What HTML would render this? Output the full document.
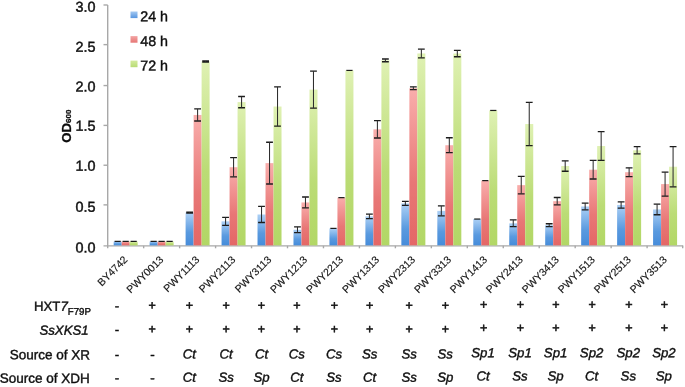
<!DOCTYPE html>
<html lang="en"><head><meta charset="utf-8"><title>OD600 growth chart</title>
<style>html,body{margin:0;padding:0;background:#fff}body{width:685px;height:387px;overflow:hidden}svg{display:block}text{font-family:"Liberation Sans", Arial, Helvetica, sans-serif;fill:#111}</style></head><body>
<svg width="685" height="387" viewBox="0 0 685 387">
<defs><linearGradient id="gb" x1="0" y1="0" x2="0" y2="1"><stop offset="0" stop-color="#acd0f5"/><stop offset="0.6" stop-color="#5a9adf"/><stop offset="1" stop-color="#468cda"/></linearGradient><linearGradient id="gr" x1="0" y1="0" x2="0" y2="1"><stop offset="0" stop-color="#f9aeac"/><stop offset="0.6" stop-color="#e87776"/><stop offset="1" stop-color="#e46766"/></linearGradient><linearGradient id="gg" x1="0" y1="0" x2="0" y2="1"><stop offset="0" stop-color="#dff1b3"/><stop offset="0.6" stop-color="#bbdc75"/><stop offset="1" stop-color="#b2d765"/></linearGradient><linearGradient id="lb" x1="0" y1="0" x2="0" y2="1"><stop offset="0" stop-color="#a5c9f1"/><stop offset="1" stop-color="#5796e0"/></linearGradient><linearGradient id="lr" x1="0" y1="0" x2="0" y2="1"><stop offset="0" stop-color="#f3a5a4"/><stop offset="1" stop-color="#e67574"/></linearGradient><linearGradient id="lg" x1="0" y1="0" x2="0" y2="1"><stop offset="0" stop-color="#d3ea9e"/><stop offset="1" stop-color="#b9dc74"/></linearGradient><filter id="soft" x="0" y="0" width="100%" height="100%" filterUnits="userSpaceOnUse"><feGaussianBlur stdDeviation="0.35"/></filter></defs>
<rect width="685" height="387" fill="#fff"/>
<g filter="url(#soft)">
<g stroke="#a8a8a8" stroke-width="1.4" fill="none">
<line x1="107.70" y1="5" x2="107.70" y2="248.30"/>
<line x1="103.50" y1="245.90" x2="683.2" y2="245.90"/>
<line x1="103.50" y1="204.87" x2="107.70" y2="204.87"/>
<line x1="103.50" y1="165.23" x2="107.70" y2="165.23"/>
<line x1="103.50" y1="125.40" x2="107.70" y2="125.40"/>
<line x1="103.50" y1="85.56" x2="107.70" y2="85.56"/>
<line x1="103.50" y1="44.63" x2="107.70" y2="44.63"/>
<line x1="103.50" y1="4.99" x2="107.70" y2="4.99"/>
<line x1="143.66" y1="245.80" x2="143.66" y2="248.30"/>
<line x1="179.62" y1="245.80" x2="179.62" y2="248.30"/>
<line x1="215.58" y1="245.80" x2="215.58" y2="248.30"/>
<line x1="251.54" y1="245.80" x2="251.54" y2="248.30"/>
<line x1="287.50" y1="245.80" x2="287.50" y2="248.30"/>
<line x1="323.46" y1="245.80" x2="323.46" y2="248.30"/>
<line x1="359.42" y1="245.80" x2="359.42" y2="248.30"/>
<line x1="395.38" y1="245.80" x2="395.38" y2="248.30"/>
<line x1="431.34" y1="245.80" x2="431.34" y2="248.30"/>
<line x1="467.30" y1="245.80" x2="467.30" y2="248.30"/>
<line x1="503.26" y1="245.80" x2="503.26" y2="248.30"/>
<line x1="539.22" y1="245.80" x2="539.22" y2="248.30"/>
<line x1="575.18" y1="245.80" x2="575.18" y2="248.30"/>
<line x1="611.14" y1="245.80" x2="611.14" y2="248.30"/>
<line x1="647.10" y1="245.80" x2="647.10" y2="248.30"/>
<line x1="682.70" y1="245.80" x2="682.70" y2="248.30"/>
</g>
<g>
<rect x="113.68" y="241.39" width="8.00" height="3.96" fill="url(#gb)"/>
<rect x="121.68" y="241.39" width="8.00" height="3.96" fill="url(#gr)"/>
<rect x="129.68" y="241.39" width="8.00" height="3.96" fill="url(#gg)"/>
<rect x="149.64" y="241.39" width="8.00" height="3.96" fill="url(#gb)"/>
<rect x="157.64" y="241.39" width="8.00" height="3.96" fill="url(#gr)"/>
<rect x="165.64" y="241.39" width="8.00" height="3.96" fill="url(#gg)"/>
<rect x="185.60" y="212.57" width="8.00" height="32.78" fill="url(#gb)"/>
<rect x="193.60" y="114.96" width="8.00" height="130.39" fill="url(#gr)"/>
<rect x="201.60" y="61.50" width="8.00" height="183.85" fill="url(#gg)"/>
<rect x="221.56" y="221.32" width="8.00" height="24.03" fill="url(#gb)"/>
<rect x="229.56" y="167.22" width="8.00" height="78.13" fill="url(#gr)"/>
<rect x="237.56" y="102.12" width="8.00" height="143.23" fill="url(#gg)"/>
<rect x="257.52" y="214.49" width="8.00" height="30.86" fill="url(#gb)"/>
<rect x="265.52" y="163.12" width="8.00" height="82.23" fill="url(#gr)"/>
<rect x="273.52" y="106.53" width="8.00" height="138.82" fill="url(#gg)"/>
<rect x="293.48" y="229.75" width="8.00" height="15.60" fill="url(#gb)"/>
<rect x="301.48" y="202.45" width="8.00" height="42.90" fill="url(#gr)"/>
<rect x="309.48" y="89.59" width="8.00" height="155.76" fill="url(#gg)"/>
<rect x="329.44" y="228.38" width="8.00" height="16.97" fill="url(#gb)"/>
<rect x="337.44" y="197.64" width="8.00" height="47.71" fill="url(#gr)"/>
<rect x="345.44" y="70.41" width="8.00" height="174.94" fill="url(#gg)"/>
<rect x="365.40" y="216.34" width="8.00" height="29.01" fill="url(#gb)"/>
<rect x="373.40" y="129.33" width="8.00" height="116.02" fill="url(#gr)"/>
<rect x="381.40" y="60.38" width="8.00" height="184.97" fill="url(#gg)"/>
<rect x="401.36" y="203.42" width="8.00" height="41.93" fill="url(#gb)"/>
<rect x="409.36" y="88.23" width="8.00" height="157.12" fill="url(#gr)"/>
<rect x="417.36" y="53.47" width="8.00" height="191.88" fill="url(#gg)"/>
<rect x="437.32" y="210.88" width="8.00" height="34.47" fill="url(#gb)"/>
<rect x="445.32" y="145.22" width="8.00" height="100.13" fill="url(#gr)"/>
<rect x="453.32" y="53.55" width="8.00" height="191.80" fill="url(#gg)"/>
<rect x="473.28" y="219.07" width="8.00" height="26.28" fill="url(#gb)"/>
<rect x="481.28" y="180.62" width="8.00" height="64.73" fill="url(#gr)"/>
<rect x="489.28" y="110.46" width="8.00" height="134.89" fill="url(#gg)"/>
<rect x="509.24" y="223.32" width="8.00" height="22.03" fill="url(#gb)"/>
<rect x="517.24" y="185.12" width="8.00" height="60.23" fill="url(#gr)"/>
<rect x="525.24" y="124.03" width="8.00" height="121.32" fill="url(#gg)"/>
<rect x="545.20" y="225.17" width="8.00" height="20.18" fill="url(#gb)"/>
<rect x="553.20" y="201.17" width="8.00" height="44.18" fill="url(#gr)"/>
<rect x="561.20" y="166.01" width="8.00" height="79.34" fill="url(#gg)"/>
<rect x="581.16" y="206.47" width="8.00" height="38.88" fill="url(#gb)"/>
<rect x="589.16" y="169.70" width="8.00" height="75.65" fill="url(#gr)"/>
<rect x="597.16" y="146.02" width="8.00" height="99.33" fill="url(#gg)"/>
<rect x="617.12" y="204.94" width="8.00" height="40.41" fill="url(#gb)"/>
<rect x="625.12" y="172.19" width="8.00" height="73.16" fill="url(#gr)"/>
<rect x="633.12" y="150.28" width="8.00" height="95.07" fill="url(#gg)"/>
<rect x="653.08" y="209.44" width="8.00" height="35.91" fill="url(#gb)"/>
<rect x="661.08" y="184.07" width="8.00" height="61.28" fill="url(#gr)"/>
<rect x="669.08" y="166.73" width="8.00" height="78.62" fill="url(#gg)"/>
</g>
<g stroke="#1c1c1c" stroke-width="1.3" fill="none">
<line x1="114.58" y1="241.39" x2="120.78" y2="241.39" stroke-width="1.2"/>
<line x1="122.58" y1="241.39" x2="128.78" y2="241.39" stroke-width="1.2"/>
<line x1="130.58" y1="241.39" x2="136.78" y2="241.39" stroke-width="1.2"/>
<line x1="150.54" y1="241.39" x2="156.74" y2="241.39" stroke-width="1.2"/>
<line x1="158.54" y1="241.39" x2="164.74" y2="241.39" stroke-width="1.2"/>
<line x1="166.54" y1="241.39" x2="172.74" y2="241.39" stroke-width="1.2"/>
<path d="M186.20 212.09H193.00M186.20 213.05H193.00"/><path d="M189.60 212.09V213.05" stroke="#2e2e2e" stroke-width="1.05"/>
<path d="M194.20 108.94H201.00M194.20 120.98H201.00"/><path d="M197.60 108.94V120.98" stroke="#2e2e2e" stroke-width="1.05"/>
<path d="M202.20 61.02H209.00M202.20 61.98H209.00"/><path d="M205.60 61.02V61.98" stroke="#2e2e2e" stroke-width="1.05"/>
<path d="M222.16 217.30H228.96M222.16 225.33H228.96"/><path d="M225.56 217.30V225.33" stroke="#2e2e2e" stroke-width="1.05"/>
<path d="M230.16 157.58H236.96M230.16 176.85H236.96"/><path d="M233.56 157.58V176.85" stroke="#2e2e2e" stroke-width="1.05"/>
<path d="M238.16 96.50H244.96M238.16 107.74H244.96"/><path d="M241.56 96.50V107.74" stroke="#2e2e2e" stroke-width="1.05"/>
<path d="M258.12 206.47H264.92M258.12 222.52H264.92"/><path d="M261.52 206.47V222.52" stroke="#2e2e2e" stroke-width="1.05"/>
<path d="M266.12 142.25H272.92M266.12 183.99H272.92"/><path d="M269.52 142.25V183.99" stroke="#2e2e2e" stroke-width="1.05"/>
<path d="M274.12 86.87H280.92M274.12 126.20H280.92"/><path d="M277.52 86.87V126.20" stroke="#2e2e2e" stroke-width="1.05"/>
<path d="M294.08 226.94H300.88M294.08 232.56H300.88"/><path d="M297.48 226.94V232.56" stroke="#2e2e2e" stroke-width="1.05"/>
<path d="M302.08 197.00H308.88M302.08 207.91H308.88"/><path d="M305.48 197.00V207.91" stroke="#2e2e2e" stroke-width="1.05"/>
<path d="M310.08 71.13H316.88M310.08 108.06H316.88"/><path d="M313.48 71.13V108.06" stroke="#2e2e2e" stroke-width="1.05"/>
<line x1="330.34" y1="228.38" x2="336.54" y2="228.38" stroke-width="1.2"/>
<line x1="338.34" y1="197.64" x2="344.54" y2="197.64" stroke-width="1.2"/>
<line x1="346.34" y1="70.41" x2="352.54" y2="70.41" stroke-width="1.2"/>
<path d="M366.00 214.09H372.80M366.00 218.59H372.80"/><path d="M369.40 214.09V218.59" stroke="#2e2e2e" stroke-width="1.05"/>
<path d="M374.00 120.66H380.80M374.00 138.00H380.80"/><path d="M377.40 120.66V138.00" stroke="#2e2e2e" stroke-width="1.05"/>
<path d="M382.00 59.01H388.80M382.00 61.74H388.80"/><path d="M385.40 59.01V61.74" stroke="#2e2e2e" stroke-width="1.05"/>
<path d="M401.96 201.41H408.76M401.96 205.42H408.76"/><path d="M405.36 201.41V205.42" stroke="#2e2e2e" stroke-width="1.05"/>
<path d="M409.96 86.79H416.76M409.96 89.67H416.76"/><path d="M413.36 86.79V89.67" stroke="#2e2e2e" stroke-width="1.05"/>
<path d="M417.96 49.14H424.76M417.96 57.81H424.76"/><path d="M421.36 49.14V57.81" stroke="#2e2e2e" stroke-width="1.05"/>
<path d="M437.92 205.91H444.72M437.92 215.86H444.72"/><path d="M441.32 205.91V215.86" stroke="#2e2e2e" stroke-width="1.05"/>
<path d="M445.92 137.76H452.72M445.92 152.69H452.72"/><path d="M449.32 137.76V152.69" stroke="#2e2e2e" stroke-width="1.05"/>
<path d="M453.92 50.34H460.72M453.92 56.76H460.72"/><path d="M457.32 50.34V56.76" stroke="#2e2e2e" stroke-width="1.05"/>
<line x1="474.18" y1="219.07" x2="480.38" y2="219.07" stroke-width="1.2"/>
<line x1="482.18" y1="180.62" x2="488.38" y2="180.62" stroke-width="1.2"/>
<line x1="490.18" y1="110.46" x2="496.38" y2="110.46" stroke-width="1.2"/>
<path d="M509.84 219.95H516.64M509.84 226.70H516.64"/><path d="M513.24 219.95V226.70" stroke="#2e2e2e" stroke-width="1.05"/>
<path d="M517.84 176.45H524.64M517.84 193.79H524.64"/><path d="M521.24 176.45V193.79" stroke="#2e2e2e" stroke-width="1.05"/>
<path d="M525.84 102.36H532.64M525.84 145.70H532.64"/><path d="M529.24 102.36V145.70" stroke="#2e2e2e" stroke-width="1.05"/>
<path d="M545.80 223.73H552.60M545.80 226.62H552.60"/><path d="M549.20 223.73V226.62" stroke="#2e2e2e" stroke-width="1.05"/>
<path d="M553.80 197.48H560.60M553.80 204.86H560.60"/><path d="M557.20 197.48V204.86" stroke="#2e2e2e" stroke-width="1.05"/>
<path d="M561.80 160.79H568.60M561.80 171.23H568.60"/><path d="M565.20 160.79V171.23" stroke="#2e2e2e" stroke-width="1.05"/>
<path d="M581.76 203.10H588.56M581.76 209.84H588.56"/><path d="M585.16 203.10V209.84" stroke="#2e2e2e" stroke-width="1.05"/>
<path d="M589.76 160.39H596.56M589.76 179.02H596.56"/><path d="M593.16 160.39V179.02" stroke="#2e2e2e" stroke-width="1.05"/>
<path d="M597.76 131.58H604.56M597.76 160.47H604.56"/><path d="M601.16 131.58V160.47" stroke="#2e2e2e" stroke-width="1.05"/>
<path d="M617.72 201.81H624.52M617.72 208.07H624.52"/><path d="M621.12 201.81V208.07" stroke="#2e2e2e" stroke-width="1.05"/>
<path d="M625.72 167.86H632.52M625.72 176.53H632.52"/><path d="M629.12 167.86V176.53" stroke="#2e2e2e" stroke-width="1.05"/>
<path d="M633.72 146.59H640.52M633.72 153.97H640.52"/><path d="M637.12 146.59V153.97" stroke="#2e2e2e" stroke-width="1.05"/>
<path d="M653.68 204.14H660.48M653.68 214.74H660.48"/><path d="M657.08 204.14V214.74" stroke="#2e2e2e" stroke-width="1.05"/>
<path d="M661.68 172.03H668.48M661.68 196.11H668.48"/><path d="M665.08 172.03V196.11" stroke="#2e2e2e" stroke-width="1.05"/>
<path d="M669.68 146.67H676.48M669.68 186.80H676.48"/><path d="M673.08 146.67V186.80" stroke="#2e2e2e" stroke-width="1.05"/>
</g>
<g font-size="14.4" text-anchor="end" stroke="#111" stroke-width="0.45">
<text x="95.5" y="252.55" transform="rotate(0.03 95.5 252.55)">0.0</text>
<text x="95.5" y="211.75" transform="rotate(0.03 95.5 211.75)">0.5</text>
<text x="95.5" y="170.65" transform="rotate(0.03 95.5 170.65)">1.0</text>
<text x="95.5" y="130.85" transform="rotate(0.03 95.5 130.85)">1.5</text>
<text x="95.5" y="91.45" transform="rotate(0.03 95.5 91.45)">2.0</text>
<text x="95.5" y="51.75" transform="rotate(0.03 95.5 51.75)">2.5</text>
<text x="95.5" y="11.75" transform="rotate(0.03 95.5 11.75)">3.0</text>
</g>
<text transform="translate(70.7 142.7) rotate(-90)" font-size="13.2" font-weight="bold" stroke="#111" stroke-width="0.3">OD<tspan font-size="8">600</tspan></text>
<g font-size="14.3" stroke="#111" stroke-width="0.4">
<rect x="130.5" y="11.5" width="7" height="6.6" fill="url(#lb)" stroke="none"/>
<text x="140.2" y="21.3" transform="rotate(0.03 140.2 21.3)">24 h</text>
<rect x="130.5" y="36.1" width="7" height="6.6" fill="url(#lr)" stroke="none"/>
<text x="140.2" y="46.1" transform="rotate(0.03 140.2 46.1)">48 h</text>
<rect x="130.5" y="60.6" width="7" height="6.6" fill="url(#lg)" stroke="none"/>
<text x="140.2" y="70.4" transform="rotate(0.03 140.2 70.4)">72 h</text>
</g>
<g font-size="10.5" text-anchor="end" fill="#222" stroke="#222" stroke-width="0.15">
<text transform="translate(128.18 260.3) rotate(-45)">BY4742</text>
<text transform="translate(164.14 260.3) rotate(-45)">PWY0013</text>
<text transform="translate(200.10 260.3) rotate(-45)">PWY1113</text>
<text transform="translate(236.06 260.3) rotate(-45)">PWY2113</text>
<text transform="translate(272.02 260.3) rotate(-45)">PWY3113</text>
<text transform="translate(307.98 260.3) rotate(-45)">PWY1213</text>
<text transform="translate(343.94 260.3) rotate(-45)">PWY2213</text>
<text transform="translate(379.90 260.3) rotate(-45)">PWY1313</text>
<text transform="translate(415.86 260.3) rotate(-45)">PWY2313</text>
<text transform="translate(451.82 260.3) rotate(-45)">PWY3313</text>
<text transform="translate(487.78 260.3) rotate(-45)">PWY1413</text>
<text transform="translate(523.74 260.3) rotate(-45)">PWY2413</text>
<text transform="translate(559.70 260.3) rotate(-45)">PWY3413</text>
<text transform="translate(595.66 260.3) rotate(-45)">PWY1513</text>
<text transform="translate(631.62 260.3) rotate(-45)">PWY2513</text>
<text transform="translate(667.58 260.3) rotate(-45)">PWY3513</text>
</g>
<g font-size="13.5" text-anchor="end" stroke="#111" stroke-width="0.4">
<text x="90.9" y="310.9" transform="rotate(0.03 90.9 310.9)"><tspan font-size="13.2">HXT</tspan><tspan font-size="13.2" font-style="italic">7</tspan><tspan font-size="9.7" dy="3.8">F79P</tspan></text>
<text x="88.6" y="334.7" transform="rotate(0.03 88.6 334.7)" font-style="italic" font-size="13.2">SsXKS1</text>
<text x="90.1" y="359.4" transform="rotate(0.03 90.1 359.4)">Source of XR</text>
<text x="89.8" y="382.9" transform="rotate(0.03 89.8 382.9)">Source of XDH</text>
</g>
<g font-size="13.5" text-anchor="middle" stroke="#111" stroke-width="0.4">
<text x="117.10" y="310.30" transform="rotate(0.03 117.10 310.30)" font-style="normal" font-size="13.5">-</text>
<text x="152.10" y="309.55" transform="rotate(0.03 152.10 309.55)" font-style="normal" font-size="12.5" stroke-width="0.55">+</text>
<text x="189.40" y="309.55" transform="rotate(0.03 189.40 309.55)" font-style="normal" font-size="12.5" stroke-width="0.55">+</text>
<text x="226.10" y="309.55" transform="rotate(0.03 226.10 309.55)" font-style="normal" font-size="12.5" stroke-width="0.55">+</text>
<text x="261.50" y="309.55" transform="rotate(0.03 261.50 309.55)" font-style="normal" font-size="12.5" stroke-width="0.55">+</text>
<text x="296.80" y="309.55" transform="rotate(0.03 296.80 309.55)" font-style="normal" font-size="12.5" stroke-width="0.55">+</text>
<text x="334.35" y="309.55" transform="rotate(0.03 334.35 309.55)" font-style="normal" font-size="12.5" stroke-width="0.55">+</text>
<text x="369.70" y="309.55" transform="rotate(0.03 369.70 309.55)" font-style="normal" font-size="12.5" stroke-width="0.55">+</text>
<text x="409.20" y="309.55" transform="rotate(0.03 409.20 309.55)" font-style="normal" font-size="12.5" stroke-width="0.55">+</text>
<text x="445.50" y="309.55" transform="rotate(0.03 445.50 309.55)" font-style="normal" font-size="12.5" stroke-width="0.55">+</text>
<text x="483.70" y="308.85" transform="rotate(0.03 483.70 308.85)" font-style="normal" font-size="12.5" stroke-width="0.55">+</text>
<text x="520.50" y="308.85" transform="rotate(0.03 520.50 308.85)" font-style="normal" font-size="12.5" stroke-width="0.55">+</text>
<text x="555.95" y="308.85" transform="rotate(0.03 555.95 308.85)" font-style="normal" font-size="12.5" stroke-width="0.55">+</text>
<text x="592.10" y="308.85" transform="rotate(0.03 592.10 308.85)" font-style="normal" font-size="12.5" stroke-width="0.55">+</text>
<text x="628.80" y="308.85" transform="rotate(0.03 628.80 308.85)" font-style="normal" font-size="12.5" stroke-width="0.55">+</text>
<text x="664.40" y="308.85" transform="rotate(0.03 664.40 308.85)" font-style="normal" font-size="12.5" stroke-width="0.55">+</text>
</g>
<g font-size="13.5" text-anchor="middle" stroke="#111" stroke-width="0.4">
<text x="117.10" y="334.05" transform="rotate(0.03 117.10 334.05)" font-style="normal" font-size="13.5">-</text>
<text x="152.10" y="333.30" transform="rotate(0.03 152.10 333.30)" font-style="normal" font-size="12.5" stroke-width="0.55">+</text>
<text x="189.40" y="333.30" transform="rotate(0.03 189.40 333.30)" font-style="normal" font-size="12.5" stroke-width="0.55">+</text>
<text x="226.10" y="333.30" transform="rotate(0.03 226.10 333.30)" font-style="normal" font-size="12.5" stroke-width="0.55">+</text>
<text x="261.50" y="333.30" transform="rotate(0.03 261.50 333.30)" font-style="normal" font-size="12.5" stroke-width="0.55">+</text>
<text x="296.80" y="333.30" transform="rotate(0.03 296.80 333.30)" font-style="normal" font-size="12.5" stroke-width="0.55">+</text>
<text x="334.35" y="333.30" transform="rotate(0.03 334.35 333.30)" font-style="normal" font-size="12.5" stroke-width="0.55">+</text>
<text x="369.70" y="333.30" transform="rotate(0.03 369.70 333.30)" font-style="normal" font-size="12.5" stroke-width="0.55">+</text>
<text x="409.20" y="333.30" transform="rotate(0.03 409.20 333.30)" font-style="normal" font-size="12.5" stroke-width="0.55">+</text>
<text x="445.50" y="333.30" transform="rotate(0.03 445.50 333.30)" font-style="normal" font-size="12.5" stroke-width="0.55">+</text>
<text x="483.70" y="332.00" transform="rotate(0.03 483.70 332.00)" font-style="normal" font-size="12.5" stroke-width="0.55">+</text>
<text x="520.50" y="332.00" transform="rotate(0.03 520.50 332.00)" font-style="normal" font-size="12.5" stroke-width="0.55">+</text>
<text x="555.95" y="332.00" transform="rotate(0.03 555.95 332.00)" font-style="normal" font-size="12.5" stroke-width="0.55">+</text>
<text x="592.10" y="332.00" transform="rotate(0.03 592.10 332.00)" font-style="normal" font-size="12.5" stroke-width="0.55">+</text>
<text x="628.80" y="332.00" transform="rotate(0.03 628.80 332.00)" font-style="normal" font-size="12.5" stroke-width="0.55">+</text>
<text x="664.40" y="332.00" transform="rotate(0.03 664.40 332.00)" font-style="normal" font-size="12.5" stroke-width="0.55">+</text>
</g>
<g font-size="13.2" text-anchor="middle" stroke="#111" stroke-width="0.4" font-style="italic">
<text x="117.10" y="359.00" transform="rotate(0.03 117.10 359.00)" font-style="normal" font-size="13.5">-</text>
<text x="152.40" y="359.00" transform="rotate(0.03 152.40 359.00)" font-style="normal" font-size="13.5">-</text>
<text x="189.40" y="358.60" transform="rotate(0.03 189.40 358.60)">Ct</text>
<text x="226.10" y="358.60" transform="rotate(0.03 226.10 358.60)">Ct</text>
<text x="261.50" y="358.60" transform="rotate(0.03 261.50 358.60)">Ct</text>
<text x="296.80" y="358.60" transform="rotate(0.03 296.80 358.60)">Cs</text>
<text x="334.00" y="358.60" transform="rotate(0.03 334.00 358.60)">Cs</text>
<text x="369.70" y="358.60" transform="rotate(0.03 369.70 358.60)">Ss</text>
<text x="409.20" y="358.60" transform="rotate(0.03 409.20 358.60)">Ss</text>
<text x="445.20" y="358.60" transform="rotate(0.03 445.20 358.60)">Ss</text>
<text x="483.00" y="357.30" transform="rotate(0.03 483.00 357.30)">Sp1</text>
<text x="520.00" y="357.30" transform="rotate(0.03 520.00 357.30)">Sp1</text>
<text x="555.60" y="357.30" transform="rotate(0.03 555.60 357.30)">Sp1</text>
<text x="591.60" y="357.30" transform="rotate(0.03 591.60 357.30)">Sp2</text>
<text x="628.30" y="357.30" transform="rotate(0.03 628.30 357.30)">Sp2</text>
<text x="663.90" y="357.30" transform="rotate(0.03 663.90 357.30)">Sp2</text>
</g>
<g font-size="13.2" text-anchor="middle" stroke="#111" stroke-width="0.4" font-style="italic">
<text x="117.10" y="382.20" transform="rotate(0.03 117.10 382.20)" font-style="normal" font-size="13.5">-</text>
<text x="152.40" y="382.20" transform="rotate(0.03 152.40 382.20)" font-style="normal" font-size="13.5">-</text>
<text x="189.40" y="381.80" transform="rotate(0.03 189.40 381.80)">Ct</text>
<text x="226.10" y="381.80" transform="rotate(0.03 226.10 381.80)">Ss</text>
<text x="261.50" y="381.80" transform="rotate(0.03 261.50 381.80)">Sp</text>
<text x="296.80" y="381.80" transform="rotate(0.03 296.80 381.80)">Ct</text>
<text x="334.00" y="381.80" transform="rotate(0.03 334.00 381.80)">Ss</text>
<text x="369.70" y="381.80" transform="rotate(0.03 369.70 381.80)">Ct</text>
<text x="409.20" y="381.80" transform="rotate(0.03 409.20 381.80)">Ss</text>
<text x="445.20" y="381.80" transform="rotate(0.03 445.20 381.80)">Sp</text>
<text x="483.00" y="380.50" transform="rotate(0.03 483.00 380.50)">Ct</text>
<text x="520.00" y="380.50" transform="rotate(0.03 520.00 380.50)">Ss</text>
<text x="555.60" y="380.50" transform="rotate(0.03 555.60 380.50)">Sp</text>
<text x="591.60" y="380.50" transform="rotate(0.03 591.60 380.50)">Ct</text>
<text x="628.30" y="380.50" transform="rotate(0.03 628.30 380.50)">Ss</text>
<text x="663.90" y="380.50" transform="rotate(0.03 663.90 380.50)">Sp</text>
</g>
</g>
</svg></body></html>
